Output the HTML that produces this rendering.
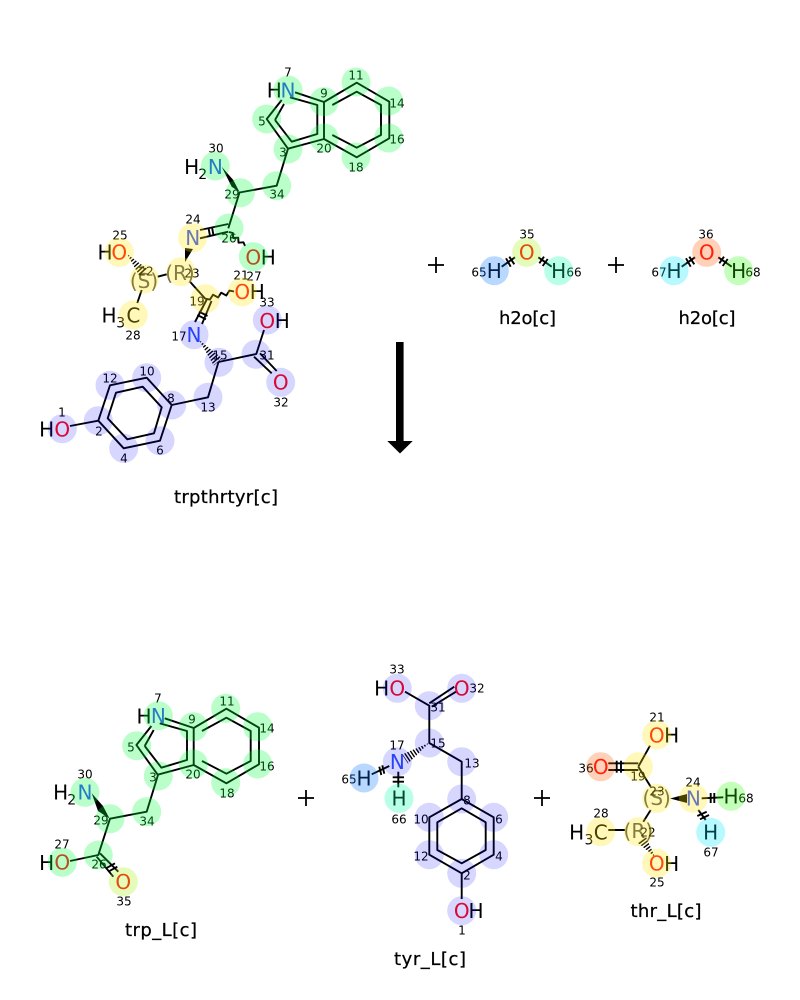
<!DOCTYPE html>
<html><head><meta charset="utf-8"><style>
html,body{margin:0;padding:0;background:#fff}
svg{display:block}
text{font-family:"DejaVu Sans","Liberation Sans",sans-serif;fill:#000;text-anchor:middle}
.a{font-size:20px}.n{font-size:12px;fill:#000}.s{font-size:14px}.t{font-size:18px;stroke:#000;stroke-width:.25}
.O{fill:#ff0d0d}.N{fill:#3050f8}.g{fill:#555}
.b line,.b polyline,.b polygon.o{stroke:#000;stroke-width:1.9;fill:none;stroke-linejoin:round}
.h{stroke:#fff;stroke-width:16;stroke-dasharray:1.6 1.4;fill:none}
.G circle{fill:rgba(0,255,60,.27)}.P circle{fill:rgba(0,0,255,.16)}.Y circle{fill:rgba(255,230,0,.28)}
</style></head><body>
<svg width="800" height="1000" viewBox="0 0 800 1000" xmlns="http://www.w3.org/2000/svg">
<rect width="800" height="1000" fill="#fff"/>
<!-- hashed wedges -->
<g>
<polygon points="199,340 222.2,358.4 213.8,365.6"/><line class="h" x1="199" y1="340" x2="218" y2="362"/>
<polygon points="127,254 147,268.6 139,275.4"/><line class="h" x1="127" y1="254" x2="143" y2="272"/>
<polygon points="429.3,742.7 408,763.5 402,754.5"/><line class="h" x1="429.3" y1="742.7" x2="405" y2="759"/>
<polygon points="655,857 646,837 638,843"/><line class="h" x1="655" y1="857" x2="642" y2="840"/>
</g>
<g class="b">
<!-- top indole -->
<g>
<polyline points="295,92.3 324,102 324,139 288,148.7 266.7,119 281.7,100"/>
<polyline points="275,120 291.7,141.7 317.3,134 317.3,105 290,97.3"/>
<line x1="275" y1="120" x2="284" y2="104"/>
<polyline points="324,102 356.7,82.7 389.3,101.7 389.3,138.3 356.7,157.3 324,139"/>
<polyline points="332.3,105 356.7,91.7 381,105 381,135 356.7,147.7 332.3,135"/>
</g>
<g transform="translate(-130.3,626)">
<polyline points="295,92.3 324,102 324,139 288,148.7 266.7,119 281.7,100"/>
<polyline points="275,120 291.7,141.7 317.3,134 317.3,105 290,97.3"/>
<line x1="275" y1="120" x2="284" y2="104"/>
<polyline points="324,102 356.7,82.7 389.3,101.7 389.3,138.3 356.7,157.3 324,139"/>
<polyline points="332.3,105 356.7,91.7 381,105 381,135 356.7,147.7 332.3,135"/>
</g>
<polyline points="288,148.7 276.7,185.7 239.5,192.5 228.3,228.3"/>
<line x1="200" y1="230" x2="228.3" y2="224"/><line x1="200" y1="238.3" x2="228.3" y2="231.7"/>
<line x1="208.5" y1="228" x2="210" y2="236"/><line x1="212" y1="227" x2="213.5" y2="235.5"/>
<polyline points="229,232 232.9,233 233.1,238 238.2,237.65 238.5,242.7 243.5,242.3 245,246"/>
<line x1="157.7" y1="276.7" x2="166.7" y2="274.3"/>
<line x1="141.7" y1="290" x2="137.3" y2="303"/>
<line x1="190" y1="281.7" x2="205.3" y2="298.7"/>
<polyline points="205.3,298.7 209.9,299.6 213,294.7 218.1,297.5 221.2,292.7 226.3,295.5 229.4,290.6 234,291.5"/>
<line x1="207" y1="299" x2="195" y2="322"/><line x1="211.5" y1="301" x2="202" y2="324"/>
<line x1="197.3" y1="315" x2="206" y2="319.3"/><line x1="199" y1="311.5" x2="207.5" y2="316"/>
<polyline points="218.5,362 256.3,354 264,330"/>
<polyline points="218.5,362 208,397.3 171.7,405"/>
<line x1="254" y1="356.7" x2="271.7" y2="373.3"/><line x1="260" y1="353.3" x2="276.7" y2="371"/>
<polygon class="o" points="110,385.3 146.7,377.7 171.7,405 160,440.7 123.7,448.3 98.3,420.7"/>
<polygon class="o" points="116,392.7 142.7,386.7 161.7,407.3 154,433.3 127.3,439.3 107.7,418.3"/>
<line x1="70" y1="426" x2="98.3" y2="420.7"/>
<!-- waters -->
<g>
<line x1="515" y1="257.3" x2="501.7" y2="266.7"/><line x1="506" y1="258.3" x2="510.7" y2="266.7"/><line x1="509.3" y1="256.7" x2="514.3" y2="264.3"/>
<line x1="538.3" y1="257.3" x2="551.7" y2="266.7"/><line x1="539.3" y1="263.3" x2="544" y2="256.7"/><line x1="542.7" y1="266" x2="547.7" y2="259"/>
</g>
<g transform="translate(180,0)">
<line x1="515" y1="257.3" x2="501.7" y2="266.7"/><line x1="506" y1="258.3" x2="510.7" y2="266.7"/><line x1="509.3" y1="256.7" x2="514.3" y2="264.3"/>
<line x1="538.3" y1="257.3" x2="551.7" y2="266.7"/><line x1="539.3" y1="263.3" x2="544" y2="256.7"/><line x1="542.7" y1="266" x2="547.7" y2="259"/>
</g>
<!-- trp bottom side chain -->
<polyline points="158,775 146.7,811.7 110,818.7 98.3,855 70,861"/>
<line x1="100" y1="853.3" x2="118.3" y2="871.7"/><line x1="96.7" y1="856.7" x2="113.3" y2="876.7"/>
<line x1="106" y1="868.3" x2="115" y2="863.3"/><line x1="108.3" y1="871.7" x2="117.3" y2="866.7"/>
<!-- tyr bottom -->
<polyline points="405,691.7 429.3,705.7 429.3,743 461.7,761.7 461.7,799"/>
<line x1="429.3" y1="703.3" x2="454.3" y2="686.7"/><line x1="431.7" y1="706.7" x2="456" y2="691.7"/>
<polygon class="o" points="461.7,799 493.7,817.3 493.7,854.7 461.7,873.3 429.3,854.7 429.3,817.3"/>
<polygon class="o" points="461.7,808.3 485.7,822.3 485.7,850 461.7,863.3 437.3,850 437.3,822.3"/>
<line x1="461.7" y1="873.3" x2="461.7" y2="899"/>
<line x1="389.3" y1="766" x2="371.7" y2="774.3"/><line x1="379.3" y1="766.7" x2="381.3" y2="775"/><line x1="382.3" y1="765.3" x2="384.3" y2="773.7"/>
<line x1="398.3" y1="771.7" x2="398.3" y2="787.3"/><line x1="392.7" y1="777.3" x2="404" y2="777.3"/><line x1="392.7" y1="781.7" x2="404" y2="781.7"/>
<!-- thr bottom -->
<line x1="650" y1="745.7" x2="638.3" y2="766.7"/>
<line x1="608.3" y1="763.3" x2="638.3" y2="763.3"/><line x1="608.3" y1="770" x2="638.3" y2="770"/>
<line x1="616.7" y1="760.7" x2="616.7" y2="772.7"/><line x1="621" y1="760.7" x2="621" y2="772.7"/>
<line x1="638.3" y1="766.7" x2="650.7" y2="786.7"/>
<line x1="650.7" y1="810" x2="643.3" y2="821.7"/>
<line x1="608.3" y1="830" x2="625" y2="830"/>
<line x1="701.7" y1="798.3" x2="723.3" y2="797.3"/><line x1="710.7" y1="793" x2="710.7" y2="803"/><line x1="714.3" y1="793" x2="714.3" y2="803"/>
<line x1="698.3" y1="810" x2="705.7" y2="820"/><line x1="697.3" y1="816" x2="706.7" y2="811.7"/><line x1="700" y1="819.3" x2="709" y2="815"/>
</g>
<!-- solid wedges -->
<polygon points="221.7,166.7 233.3,180 239.5,192 231.7,186.7"/>
<polygon points="91.7,793.3 103,806 109.5,818.5 98,811"/>
<polygon points="185,248 193,249 185,262"/>
<polygon points="670,798.5 687,794 687,803"/>
<!-- arrow -->
<rect x="396" y="342" width="7.6" height="100"/>
<polygon points="387.3,441 412.7,441 400,453.5"/>
<!-- pluses -->
<g stroke="#000" stroke-width="1.8">
<line x1="428" y1="265" x2="444" y2="265"/><line x1="436" y1="257" x2="436" y2="273"/>
<line x1="608" y1="265" x2="624" y2="265"/><line x1="616" y1="257" x2="616" y2="273"/>
<line x1="298" y1="798" x2="314" y2="798"/><line x1="306" y1="790" x2="306" y2="806"/>
<line x1="534" y1="798" x2="550" y2="798"/><line x1="542" y1="790" x2="542" y2="806"/>
</g>
<!-- atom labels -->
<g>
<text class="a" x="274.3" y="97.3">H</text><text class="a N" x="288" y="97.3">N</text>
<text class="a" x="191.7" y="174">H</text><text class="s" x="202.7" y="179">2</text><text class="a N" x="215.3" y="174">N</text>
<text class="a O" x="253.3" y="264.3">O</text><text class="a" x="268.3" y="264.3">H</text>
<text class="a N" x="192.7" y="245">N</text>
<text class="a" x="105" y="259.6">H</text><text class="a O" x="119.3" y="259.6">O</text>
<text class="a O" x="242.3" y="299">O</text><text class="a" x="257.3" y="299">H</text>
<text class="a g" x="180" y="280">(R)</text><text class="a g" x="144" y="288">(S)</text>
<text class="a" x="109" y="322.5">H</text><text class="s" x="120.7" y="327.5">3</text><text class="a" x="133.3" y="322.5">C</text>
<text class="a N" x="194" y="342">N</text>
<text class="a O" x="267.3" y="328">O</text><text class="a" x="282.3" y="328">H</text>
<text class="a O" x="280.7" y="389.6">O</text>
<text class="a" x="46.7" y="436.6">H</text><text class="a O" x="62.3" y="436.6">O</text>
<text class="a" x="494.3" y="278">H</text><text class="a O" x="526.7" y="259.6">O</text><text class="a" x="558.7" y="278">H</text>
<text class="a" x="674" y="278">H</text><text class="a O" x="706.7" y="259.6">O</text><text class="a" x="738.7" y="278">H</text>
<text class="a" x="144" y="723.5">H</text><text class="a N" x="158.3" y="723">N</text>
<text class="a" x="60.7" y="799.6">H</text><text class="s" x="71.7" y="804.6">2</text><text class="a N" x="85" y="799.6">N</text>
<text class="a" x="46.7" y="870">H</text><text class="a O" x="62.3" y="869.6">O</text>
<text class="a O" x="123.3" y="889">O</text>
<text class="a" x="381.7" y="695.6">H</text><text class="a O" x="397.3" y="695.6">O</text>
<text class="a O" x="461.7" y="695.6">O</text>
<text class="a N" x="397.3" y="769">N</text>
<text class="a" x="364" y="785.3">H</text><text class="a" x="399" y="805.6">H</text>
<text class="a O" x="461.7" y="918">O</text><text class="a" x="476" y="918">H</text>
<text class="a O" x="656.7" y="742.3">O</text><text class="a" x="671.7" y="742.3">H</text>
<text class="a O" x="600.7" y="774">O</text>
<text class="a g" x="656.7" y="805">(S)</text>
<text class="a N" x="693.3" y="805.6">N</text>
<text class="a" x="731" y="803.6">H</text><text class="a" x="710.7" y="839.6">H</text>
<text class="a g" x="638.3" y="838">(R)</text>
<text class="a" x="576.7" y="839.6">H</text><text class="s" x="589" y="844.6">3</text><text class="a" x="600.7" y="839.6">C</text>
<text class="a O" x="656.7" y="870.6">O</text><text class="a" x="671.7" y="871">H</text>
</g>
<!-- numbers -->
<g>
<text class="n" x="288" y="76.4">7</text><text class="n" x="324" y="97.4">9</text><text class="n" x="356" y="79.4">11</text><text class="n" x="397" y="107.4">14</text><text class="n" x="397" y="143.4">16</text><text class="n" x="356" y="171.4">18</text><text class="n" x="324" y="152.4">20</text><text class="n" x="283" y="156.4">3</text><text class="n" x="262" y="125.4">5</text><text class="n" x="277" y="198.4">34</text><text class="n" x="232" y="198.4">29</text><text class="n" x="216" y="152.4">30</text><text class="n" x="229" y="242.4">26</text><text class="n" x="254" y="280.4">27</text><text class="n" x="193" y="223.4">24</text><text class="n" x="192" y="277.4">23</text><text class="n" x="146" y="275.4">22</text><text class="n" x="120" y="239.4">25</text><text class="n" x="133" y="339.4">28</text><text class="n" x="197" y="305.4">19</text><text class="n" x="241" y="279.4">21</text><text class="n" x="267" y="306.4">33</text><text class="n" x="179" y="340.4">17</text><text class="n" x="220" y="359.4">15</text><text class="n" x="267" y="359.4">31</text><text class="n" x="281" y="406.4">32</text><text class="n" x="208" y="411.4">13</text><text class="n" x="171" y="402.4">8</text><text class="n" x="147" y="375.4">10</text><text class="n" x="110" y="382.4">12</text><text class="n" x="99" y="435.4">2</text><text class="n" x="124" y="462.4">4</text><text class="n" x="160" y="454.4">6</text><text class="n" x="62" y="416.4">1</text>
<text class="n" x="527" y="238.4">35</text><text class="n" x="479" y="276.4">65</text><text class="n" x="574" y="276.4">66</text><text class="n" x="706" y="238.4">36</text><text class="n" x="659" y="276.4">67</text><text class="n" x="753" y="276.4">68</text>
<text class="n" x="158" y="702.4">7</text><text class="n" x="192" y="723.4">9</text><text class="n" x="227" y="705.4">11</text><text class="n" x="267" y="732.4">14</text><text class="n" x="267" y="770.4">16</text><text class="n" x="227" y="797.4">18</text><text class="n" x="193" y="778.4">20</text><text class="n" x="153" y="781.4">3</text><text class="n" x="131" y="751.4">5</text><text class="n" x="147" y="825.4">34</text><text class="n" x="101" y="824.4">29</text><text class="n" x="85" y="778.4">30</text><text class="n" x="99" y="868.4">26</text><text class="n" x="62" y="848.4">27</text><text class="n" x="124" y="905.4">35</text>
<text class="n" x="397" y="673.4">33</text><text class="n" x="477" y="692.4">32</text><text class="n" x="438" y="711.4">31</text><text class="n" x="438" y="747.4">15</text><text class="n" x="472" y="767.4">13</text><text class="n" x="467" y="804.4">8</text><text class="n" x="499" y="823.4">6</text><text class="n" x="499" y="860.4">4</text><text class="n" x="467" y="879.4">2</text><text class="n" x="421" y="860.4">12</text><text class="n" x="421" y="823.4">10</text><text class="n" x="462" y="934.4">1</text><text class="n" x="397" y="749.4">17</text><text class="n" x="349" y="783.4">65</text><text class="n" x="399" y="823.4">66</text>
<text class="n" x="657" y="721.4">21</text><text class="n" x="638" y="780.4">19</text><text class="n" x="586" y="772.4">36</text><text class="n" x="657" y="795.4">23</text><text class="n" x="693" y="786.4">24</text><text class="n" x="746" y="802.4">68</text><text class="n" x="711" y="856.4">67</text><text class="n" x="648" y="836.4">22</text><text class="n" x="601" y="817.4">28</text><text class="n" x="657" y="886.4">25</text>
</g>
<!-- names -->
<text class="t" x="226" y="503" textLength="104">trpthrtyr[c]</text>
<text class="t" x="527.5" y="324" textLength="57">h2o[c]</text>
<text class="t" x="707" y="324" textLength="57">h2o[c]</text>
<text class="t" x="161" y="936" textLength="72">trp_L[c]</text>
<text class="t" x="430" y="965" textLength="72">tyr_L[c]</text>
<text class="t" x="666" y="917" textLength="71">thr_L[c]</text>
<!-- highlight circles on top -->
<g class="G">
<circle cx="288" cy="90" r="14.5"/><circle cx="324" cy="101.7" r="14.5"/><circle cx="356" cy="82" r="14.5"/><circle cx="388.7" cy="101" r="14.5"/><circle cx="388.7" cy="138" r="14.5"/><circle cx="356" cy="157" r="14.5"/><circle cx="324" cy="138" r="14.5"/><circle cx="288" cy="149" r="14.5"/><circle cx="266.7" cy="119" r="14.5"/><circle cx="276.7" cy="185.7" r="14.5"/><circle cx="240.3" cy="192.7" r="14.5"/><circle cx="215.3" cy="166" r="14.5"/><circle cx="229" cy="228" r="14.5"/><circle cx="253.3" cy="256.7" r="14.5"/>
<circle cx="158.3" cy="715.7" r="14.5"/><circle cx="193.3" cy="726.7" r="14.5"/><circle cx="225.7" cy="708.3" r="14.5"/><circle cx="257.7" cy="726.7" r="14.5"/><circle cx="257.7" cy="764" r="14.5"/><circle cx="225.7" cy="782.7" r="14.5"/><circle cx="193.3" cy="764" r="14.5"/><circle cx="158.3" cy="776" r="14.5"/><circle cx="136.7" cy="745.7" r="14.5"/><circle cx="146.7" cy="811.7" r="14.5"/><circle cx="110" cy="818.7" r="14.5"/><circle cx="85" cy="792.3" r="14.5"/><circle cx="98.3" cy="855" r="14.5"/><circle cx="62.3" cy="862.3" r="14.5"/>
</g>
<g class="Y">
<circle cx="192.7" cy="237.7" r="14.5"/><circle cx="181" cy="271.7" r="14.5"/><circle cx="144.3" cy="279" r="14.5"/><circle cx="119.3" cy="252.3" r="14.5"/><circle cx="133.3" cy="315" r="14.5"/><circle cx="205.3" cy="298.7" r="14.5"/><circle cx="242.3" cy="291.7" r="14.5"/>
<circle cx="656.7" cy="735" r="14.5"/><circle cx="638.3" cy="766.7" r="14.5"/><circle cx="656.7" cy="798.3" r="14.5"/><circle cx="693.3" cy="798.3" r="14.5"/><circle cx="638.3" cy="831.7" r="14.5"/><circle cx="600.7" cy="831.7" r="14.5"/><circle cx="656.7" cy="863.3" r="14.5"/>
</g>
<g class="P">
<circle cx="194" cy="334.7" r="14.5"/><circle cx="219" cy="362.3" r="14.5"/><circle cx="256" cy="354.3" r="14.5"/><circle cx="267.3" cy="320" r="14.5"/><circle cx="280.7" cy="382.3" r="14.5"/><circle cx="208" cy="397.3" r="14.5"/><circle cx="171.7" cy="405" r="14.5"/><circle cx="146.7" cy="377.7" r="14.5"/><circle cx="110" cy="385.3" r="14.5"/><circle cx="98.3" cy="420.7" r="14.5"/><circle cx="123.7" cy="448.3" r="14.5"/><circle cx="160" cy="440.7" r="14.5"/><circle cx="62.3" cy="428.7" r="14.5"/>
<circle cx="397.3" cy="688.3" r="14.5"/><circle cx="461.7" cy="688.3" r="14.5"/><circle cx="429.3" cy="705.7" r="14.5"/><circle cx="429.3" cy="743" r="14.5"/><circle cx="461.7" cy="761.7" r="14.5"/><circle cx="461.7" cy="799" r="14.5"/><circle cx="493.7" cy="817.3" r="14.5"/><circle cx="493.7" cy="854.7" r="14.5"/><circle cx="461.7" cy="873.3" r="14.5"/><circle cx="429.3" cy="854.7" r="14.5"/><circle cx="429.3" cy="817.3" r="14.5"/><circle cx="461.7" cy="910.7" r="14.5"/><circle cx="397.3" cy="761.7" r="14.5"/>
</g>
<circle cx="526.7" cy="252.3" r="14.5" fill="rgba(160,240,0,.27)"/>
<circle cx="123.3" cy="881.7" r="14.5" fill="rgba(160,240,0,.27)"/>
<circle cx="494.3" cy="270.7" r="14.5" fill="rgba(0,115,255,.28)"/>
<circle cx="364" cy="778" r="14.5" fill="rgba(0,115,255,.28)"/>
<circle cx="558.7" cy="270.7" r="14.5" fill="rgba(0,255,170,.28)"/>
<circle cx="399" cy="798.3" r="14.5" fill="rgba(0,255,170,.28)"/>
<circle cx="706.7" cy="252.3" r="14.5" fill="rgba(255,90,0,.28)"/>
<circle cx="600.7" cy="766.7" r="14.5" fill="rgba(255,90,0,.28)"/>
<circle cx="674" cy="270.7" r="14.5" fill="rgba(0,230,255,.28)"/>
<circle cx="710.7" cy="832.3" r="14.5" fill="rgba(0,230,255,.28)"/>
<circle cx="738.7" cy="270.7" r="14.5" fill="rgba(40,255,0,.28)"/>
<circle cx="731" cy="796.3" r="14.5" fill="rgba(40,255,0,.28)"/>
</svg>
</body></html>
